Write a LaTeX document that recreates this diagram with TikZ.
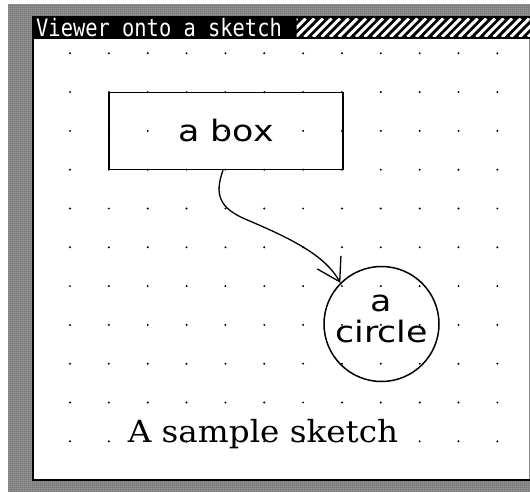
\documentclass[tikz,border=0pt]{standalone}
\usepackage{fontspec}
\usetikzlibrary{arrows.meta,patterns,calc}
\newfontfamily\genevafont{DejaVu Sans}[FakeStretch=1.18]
\newfontfamily\chicagofont{DejaVu Sans Mono}[FakeStretch=0.85]
\newfontfamily\newyorkfont{DejaVu Serif}[FakeStretch=1.07]
\pgfdeclarepatternformonly{checker}{\pgfqpoint{0pt}{0pt}}{\pgfqpoint{2pt}{2pt}}{\pgfqpoint{2pt}{2pt}}{%
  \pgfpathrectangle{\pgfqpoint{0pt}{0pt}}{\pgfqpoint{1pt}{1pt}}%
  \pgfpathrectangle{\pgfqpoint{1pt}{1pt}}{\pgfqpoint{1pt}{1pt}}%
  \pgfusepath{fill}}
\tikzset{
  shapebox/.style={draw=black, line width=1.6pt, minimum width=234pt, minimum height=77pt, inner sep=0pt},
  shapecircle/.style={circle, draw=black, line width=1.5pt, minimum size=115pt, inner sep=0pt},
  sanslabel/.style={inner sep=0pt, font={\genevafont\fontsize{29.5pt}{31pt}\selectfont}},
  seriflabel/.style={inner sep=0pt, font={\newyorkfont\fontsize{30.5pt}{33pt}\selectfont}},
  titlelabel/.style={inner sep=0pt, text=white, font={\chicagofont\fontsize{24pt}{26pt}\selectfont}},
  connector/.style={line width=1.3pt, -{Straight Barb[length=22pt,width=27pt,line width=1.3pt]}},
  griddot/.style={fill=black},
}
\begin{document}
\begin{tikzpicture}[x=1pt,y=-1pt]
\useasboundingbox (0,0) rectangle (530,492);
\fill[white] (0,0) rectangle (530,492);
% desktop grey
\fill[black!42] (8.3,4.3) rectangle (530,492);
\fill[pattern=checker, pattern color=black!62] (8.3,4.3) rectangle (530,492);
% window
\fill[black] (31.5,16.5) rectangle (530,481);
\fill[white] (33.5,39) rectangle (528.5,479);
\fill[black!45] (528.5,39) rectangle (530,479);
% title bar hatching
\begin{scope}
  \clip (296.5,18.5) rectangle (530,37);
  \foreach \x in {270,278.6,...,560} \draw[white, line width=3pt] (\x,37) -- (\x+18.5,18.5);
\end{scope}
\node[titlelabel, anchor=base west] (title) at (36,36.5) {Viewer onto a sketch};
% dot grid
\foreach \i in {0,...,11}
  \foreach \j in {0,...,10}
    \fill[griddot] ({70+38.85*\i},{53.3+38.8*\j}) circle (1.1pt);
% shapes
\node[shapebox] (box) at (226,131) {};
\node[sanslabel] (boxlabel) at (box.center) {a box};
\node[shapecircle] (circ) at (381.5,324) {};
\node[sanslabel, align=center] (circlabel) at ($(circ.center)+(0,-5)$) {a\\circle};
\draw[connector] ([xshift=-3pt]box.south) .. controls (214,195) and (220,208) .. (245,219)
  .. controls (290,238) and (325,255) .. (circ.135);
\node[seriflabel, anchor=base] (caption) at (263,442.7) {A sample sketch};
\end{tikzpicture}
\end{document}
